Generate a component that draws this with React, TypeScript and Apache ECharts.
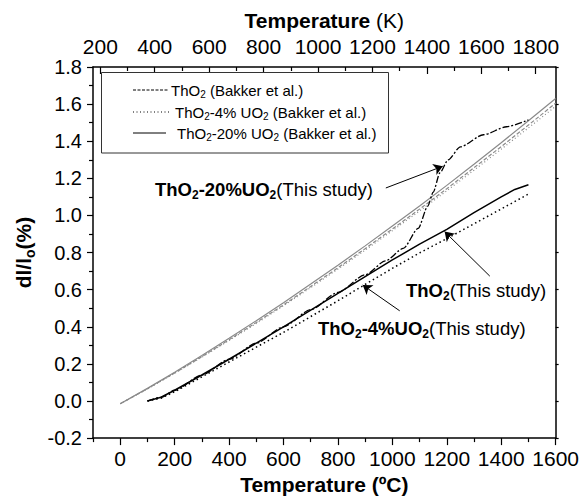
import React, { useEffect, useRef } from "react";
import * as echarts from "echarts";

// ---------- data ----------
const bakkerTemps = [0, 100, 200, 300, 400, 500, 600, 700, 800, 900, 1000, 1100, 1200, 1300, 1400, 1500, 1600];
const bakkerThO2 = [-0.015, 0.066, 0.151, 0.239, 0.33, 0.423, 0.518, 0.617, 0.718, 0.821, 0.927, 1.034, 1.144, 1.257, 1.371, 1.487, 1.605];
const bakkerThO2_4 = [-0.015, 0.065, 0.149, 0.236, 0.326, 0.418, 0.513, 0.611, 0.711, 0.813, 0.918, 1.024, 1.133, 1.244, 1.357, 1.472, 1.588];
const bakkerThO2_20 = [-0.015, 0.068, 0.155, 0.245, 0.338, 0.433, 0.53, 0.63, 0.732, 0.836, 0.943, 1.051, 1.162, 1.276, 1.392, 1.51, 1.63];

const studyThO2Temps = [100, 150, 200, 300, 400, 500, 600, 700, 800, 900, 1000, 1100, 1200, 1300, 1400, 1450, 1500];
const studyThO2 = [0.0, 0.02, 0.058, 0.14, 0.225, 0.312, 0.4, 0.49, 0.58, 0.67, 0.76, 0.845, 0.925, 1.015, 1.1, 1.14, 1.165];

const studyThO2_4Temps = [100, 150, 200, 300, 400, 500, 600, 700, 800, 900, 1000, 1100, 1200, 1300, 1400, 1500];
const studyThO2_4 = [0.0, 0.015, 0.05, 0.13, 0.21, 0.29, 0.37, 0.455, 0.54, 0.628, 0.715, 0.798, 0.875, 0.955, 1.035, 1.115];

const studyThO2_20Temps = [100, 150, 200, 300, 400, 500, 600, 700, 800, 900, 975, 1040, 1095, 1130, 1150, 1175, 1205, 1250, 1335, 1420, 1500];
const studyThO2_20 = [0.0, 0.02, 0.058, 0.14, 0.225, 0.312, 0.4, 0.492, 0.585, 0.68, 0.755, 0.822, 0.93, 1.05, 1.125, 1.23, 1.3, 1.37, 1.435, 1.478, 1.515];

const celsiusMajor = [0, 200, 400, 600, 800, 1000, 1200, 1400, 1600];
const celsiusMinor = [-100, 100, 300, 500, 700, 900, 1100, 1300, 1500];
const kelvinMajor = [200, 400, 600, 800, 1000, 1200, 1400, 1600, 1800];
const kelvinMinor = [300, 500, 700, 900, 1100, 1300, 1500, 1700];

// annotation arrows: [fromC, fromV, toC, toV]
const arrows = [
  [976, 1.148, 1185, 1.265],
  [1358, 0.673, 1192, 0.913],
  [1027, 0.486, 891, 0.625],
];

const FF = "'Liberation Sans', Arial, Helvetica, sans-serif";

const zip = (xs: number[], ys: number[]) => xs.map((x, i) => [x, ys[i]]);

function gRich(F: number) {
  const f = Math.round(F * 0.65);
  const p = Math.round(F * 0.49);
  return {
    b: { fontFamily: FF, fontWeight: "bold", fontSize: F, lineHeight: F, verticalAlign: "top", fill: "#000" },
    bs: { fontFamily: FF, fontWeight: "bold", fontSize: f, lineHeight: F, padding: [p, 0, 0, 0], verticalAlign: "top", fill: "#000" },
    n: { fontFamily: FF, fontWeight: "normal", fontSize: F, lineHeight: F, verticalAlign: "top", fill: "#000" },
    ns: { fontFamily: FF, fontWeight: "normal", fontSize: f, lineHeight: F, padding: [p, 0, 0, 0], verticalAlign: "top", fill: "#000" },
  };
}

function oRich(F: number) {
  const f = Math.round(F * 0.65);
  const p = Math.round(F * 0.49);
  return {
    b: { fontFamily: FF, fontWeight: "bold", fontSize: F, lineHeight: F, verticalAlign: "top", color: "#000" },
    bs: { fontFamily: FF, fontWeight: "bold", fontSize: f, lineHeight: F, padding: [p, 0, 0, 0], verticalAlign: "top", color: "#000" },
    n: { fontFamily: FF, fontWeight: "normal", fontSize: F, lineHeight: F, verticalAlign: "top", color: "#000" },
  };
}

const gText = (x: number, y: number, text: string, F: number) => ({
  type: "text",
  x,
  y,
  style: { text, rich: gRich(F), align: "left", verticalAlign: "middle", fill: "#000" },
});

export default function App() {
  const ref = useRef<HTMLDivElement>(null);
  useEffect(() => {
    const chart = echarts.init(ref.current!, null, { renderer: "svg" });
    const axisLineStyle = { color: "#000", width: 1.5 };
    const tickFont = { fontFamily: FF, color: "#000" };
    const plain = (v: number) => String(v);
    const option: any = {
      animation: false,
      backgroundColor: "#fff",
      grid: { left: 93, right: 26, top: 67, bottom: 58 },
      xAxis: [
        {
          type: "value", position: "bottom", min: -100, max: 1600,
          axisLine: { show: true, onZero: false, lineStyle: axisLineStyle },
          axisTick: { show: true, inside: false, length: 7, customValues: celsiusMajor, lineStyle: { color: "#000", width: 1.2 } },
          axisLabel: { show: true, customValues: celsiusMajor, fontSize: 21, margin: 10, formatter: plain, ...tickFont },
          splitLine: { show: false },
          name: "Temperature (ºC)", nameLocation: "middle", nameGap: 35,
          nameTextStyle: { fontFamily: FF, fontWeight: "bold", fontSize: 21, color: "#000" },
        },
        {
          type: "value", position: "bottom", min: -100, max: 1600,
          axisLine: { show: false, onZero: false },
          axisTick: { show: true, inside: false, length: 4, customValues: celsiusMinor, lineStyle: { color: "#000", width: 1.2 } },
          axisLabel: { show: false },
          splitLine: { show: false },
        },
        {
          type: "value", position: "top", min: 173.15, max: 1873.15,
          axisLine: { show: true, onZero: false, lineStyle: axisLineStyle },
          axisTick: { show: true, inside: true, length: 7, customValues: kelvinMajor, lineStyle: { color: "#000", width: 1.2 } },
          axisLabel: { show: true, customValues: kelvinMajor, fontSize: 21, margin: 10, formatter: plain, ...tickFont },
          splitLine: { show: false },
          name: "{b|Temperature}{n| (K)}", nameLocation: "middle", nameGap: 36,
          nameTextStyle: { rich: oRich(21) },
        },
        {
          type: "value", position: "top", min: 173.15, max: 1873.15,
          axisLine: { show: false, onZero: false },
          axisTick: { show: true, inside: true, length: 4, customValues: kelvinMinor, lineStyle: { color: "#000", width: 1.2 } },
          axisLabel: { show: false },
          splitLine: { show: false },
        },
      ],
      yAxis: [
        {
          type: "value", position: "left", min: -0.2, max: 1.8, interval: 0.2,
          axisLine: { show: true, onZero: false, lineStyle: axisLineStyle },
          axisTick: { show: true, inside: false, length: 6, lineStyle: { color: "#000", width: 1.2 } },
          minorTick: { show: true, splitNumber: 2, length: 4, lineStyle: { color: "#000", width: 1.2 } },
          axisLabel: { show: true, fontSize: 20, margin: 11, formatter: (v: number) => v.toFixed(1), ...tickFont },
          splitLine: { show: false },
          minorSplitLine: { show: false },
          name: "{b|dl/l}{bs|o}{b|(%)}", nameLocation: "middle", nameGap: 58, nameRotate: 90,
          nameTextStyle: { rich: oRich(21) },
        },
        {
          type: "value", position: "right", min: -0.2, max: 1.8, interval: 0.2,
          axisLine: { show: true, onZero: false, lineStyle: axisLineStyle },
          axisTick: { show: true, inside: false, length: 3, lineStyle: { color: "#000", width: 1.2 } },
          axisLabel: { show: false },
          splitLine: { show: false },
        },
      ],
      series: [
        {
          name: "ThO2 (Bakker et al.)", type: "line", xAxisIndex: 0, yAxisIndex: 0, showSymbol: false, symbol: "none",
          data: zip(bakkerTemps, bakkerThO2),
          lineStyle: { color: "#8a8a8a", width: 1.2, type: [4, 2] }, z: 2,
        },
        {
          name: "ThO2-4% UO2 (Bakker et al.)", type: "line", xAxisIndex: 0, yAxisIndex: 0, showSymbol: false, symbol: "none",
          data: zip(bakkerTemps, bakkerThO2_4),
          lineStyle: { color: "#8a8a8a", width: 1.2, type: [1, 2.5] }, z: 2,
        },
        {
          name: "ThO2-20% UO2 (Bakker et al.)", type: "line", xAxisIndex: 0, yAxisIndex: 0, showSymbol: false, symbol: "none",
          data: zip(bakkerTemps, bakkerThO2_20),
          lineStyle: { color: "#8a8a8a", width: 1.2, type: "solid" }, z: 2,
        },
        {
          name: "ThO2 (This study)", type: "line", xAxisIndex: 0, yAxisIndex: 0, showSymbol: false, symbol: "none",
          data: zip(studyThO2Temps, studyThO2),
          lineStyle: { color: "#000", width: 1.5, type: "solid" }, z: 3,
          markLine: {
            silent: true, animation: false,
            symbol: ["none", "arrow"], symbolSize: 9,
            label: { show: false },
            lineStyle: { color: "#000", width: 1, type: "solid" },
            emphasis: { disabled: true },
            data: arrows.map((a) => [{ coord: [a[0], a[1]] }, { coord: [a[2], a[3]] }]),
          },
        },
        {
          name: "ThO2-4%UO2 (This study)", type: "line", xAxisIndex: 0, yAxisIndex: 0, showSymbol: false, symbol: "none",
          data: zip(studyThO2_4Temps, studyThO2_4),
          lineStyle: { color: "#000", width: 1.5, type: [1.5, 3] }, z: 3,
        },
        {
          name: "ThO2-20%UO2 (This study)", type: "line", xAxisIndex: 0, yAxisIndex: 0, showSymbol: false, symbol: "none",
          data: zip(studyThO2_20Temps, studyThO2_20), smooth: 0.25, smoothMonotone: "x",
          lineStyle: { color: "#000", width: 1.3, type: [7, 2, 2, 2] }, z: 3,
        },
      ],
      graphic: [
        {
          type: "rect", shape: { x: 101.5, y: 72.5, width: 287, height: 80.5 },
          style: { fill: "#fff", stroke: "#333", lineWidth: 1 }, z: 10,
        },
        { type: "line", shape: { x1: 133, y1: 90, x2: 168, y2: 90 }, style: { stroke: "#000", lineWidth: 1, lineDash: [3, 1.5] }, z: 11 },
        { type: "line", shape: { x1: 133, y1: 112, x2: 170, y2: 112 }, style: { stroke: "#000", lineWidth: 1, lineDash: [1, 2.5] }, z: 11 },
        { type: "line", shape: { x1: 133, y1: 133, x2: 166, y2: 133 }, style: { stroke: "#000", lineWidth: 1 }, z: 11 },
        { ...gText(171, 90, "{n|ThO}{ns|2}{n| (Bakker et al.)}", 15), z: 11 },
        { ...gText(175, 112, "{n|ThO}{ns|2}{n|-4% UO}{ns|2}{n| (Bakker et al.)}", 15), z: 11 },
        { ...gText(177, 133, "{n|ThO}{ns|2}{n|-20% UO}{ns|2}{n| (Bakker et al.)}", 15), z: 11 },
        { ...gText(155, 189, "{b|ThO}{bs|2}{b|-20%UO}{bs|2}{n|(This study)}", 18.5), z: 11 },
        { ...gText(406, 290, "{b|ThO}{bs|2}{n|(This study)}", 18.5), z: 11 },
        { ...gText(318, 328, "{b|ThO}{bs|2}{b|-4%UO}{bs|2}{n|(This study)}", 18.5), z: 11 },
      ],
    };
    chart.setOption(option);
    return () => chart.dispose();
  }, []);
  return (
    <div
      ref={ref}
      style={{ position: "fixed", left: 0, top: 0, width: 582, height: 500, background: "#fff" }}
    />
  );
}
